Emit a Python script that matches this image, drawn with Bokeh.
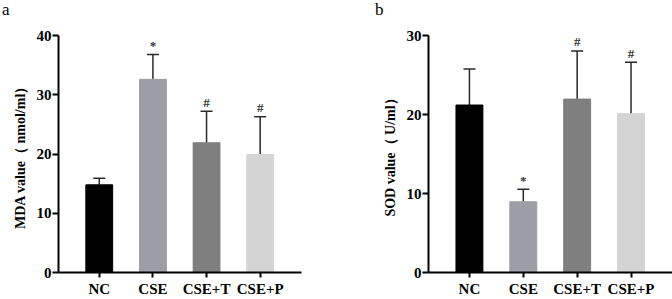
from bokeh.plotting import figure
from bokeh.layouts import row, column
from bokeh.models import ColumnDataSource, FixedTicker, Whisker, TeeHead, Div
from bokeh.core.properties import value
from bokeh.embed import file_html
from bokeh.resources import INLINE

groups = ["NC", "CSE", "CSE+T", "CSE+P"]
colors = ["#000000", "#9d9da5", "#7f7f7f", "#d4d4d4"]

mda_mean = [14.8, 32.6, 21.9, 19.9]
mda_err = [1.1, 4.2, 5.3, 6.4]
mda_sig = ["", "*", "#", "#"]

sod_mean = [21.2, 8.95, 21.95, 20.1]
sod_err = [4.55, 1.6, 6.1, 6.5]
sod_sig = ["", "*", "#", "#"]

FONT = "Liberation Serif"
HEAD = 20


def make_panel(means, errs, sigs, ymax, ylabel, bl, br, bt, bb):
    xs = list(range(len(groups)))
    tops = [m + e for m, e in zip(means, errs)]
    src = ColumnDataSource(dict(x=xs, mean=means, top=tops, color=colors, sig=sigs))
    p = figure(width=336, height=299 - HEAD, output_backend="svg", toolbar_location=None,
               x_range=(-0.76, 3.77), y_range=(0, ymax),
               min_border_left=bl, min_border_right=br, min_border_top=bt, min_border_bottom=bb)
    p.outline_line_color = None
    p.xgrid.grid_line_color = None
    p.ygrid.grid_line_color = None
    p.background_fill_color = "white"

    p.vbar(x="x", top="mean", width=0.5, bottom=0, fill_color="color", line_color="color", source=src)
    w = Whisker(base="x", lower="mean", upper="top", source=src, dimension="height",
                line_color="#2a2a2a", line_width=1.5,
                upper_head=TeeHead(size=12, line_color="#2a2a2a", line_width=1.5),
                lower_head=None)
    p.add_layout(w)
    p.text(x="x", y="top", text="sig", source=src, text_align="center", text_baseline="middle",
           y_offset=-9, text_font=value(FONT), text_font_size="13px", text_font_style="bold",
           text_color="#333333")

    for ax in (p.xaxis[0], p.yaxis[0]):
        ax.axis_line_width = 2
        ax.axis_line_color = "black"
        ax.major_tick_line_width = 2
        ax.major_tick_line_color = "black"
        ax.minor_tick_line_color = None
        ax.major_tick_in = 0
        ax.major_label_text_font = FONT
        ax.major_label_text_font_style = "bold"
        ax.major_label_text_font_size = "15px"
        ax.major_label_text_color = "black"

    p.yaxis.ticker = FixedTicker(ticks=list(range(0, ymax + 1, 10)))
    p.yaxis.major_tick_out = 6
    p.yaxis.major_label_standoff = 1
    p.yaxis.axis_label = ylabel
    p.yaxis.axis_label_text_font = FONT
    p.yaxis.axis_label_text_font_style = "bold"
    p.yaxis.axis_label_text_font_size = "14px"
    p.yaxis.axis_label_text_color = "black"
    p.yaxis.axis_label_standoff = 6

    p.xaxis.ticker = FixedTicker(ticks=xs)
    p.xaxis.major_label_overrides = {i: g for i, g in enumerate(groups)}
    p.xaxis.major_tick_out = 5
    p.xaxis.major_label_standoff = 3
    return p


def letter_div(letter, pad):
    html = ('<div style="font-family: \'Liberation Serif\'; font-size: 17px; line-height: 20px; '
            'margin: 0; padding: 0 0 0 %dpx; color: black;">%s</div>' % (pad, letter))
    return Div(text=html, width=336, height=HEAD, margin=0)


p1 = make_panel(mda_mean, mda_err, mda_sig, 40, "MDA value（ nmol/ml）", 58, 35, 34 - HEAD, 24)
p2 = make_panel(sod_mean, sod_err, sod_sig, 30, "SOD value（ U/ml）", 92, 0, 35 - HEAD, 23)

layout = column(row(letter_div("a", 2), letter_div("b", 39)), row(p1, p2))
open("out.html", "w").write(file_html(layout, INLINE))
